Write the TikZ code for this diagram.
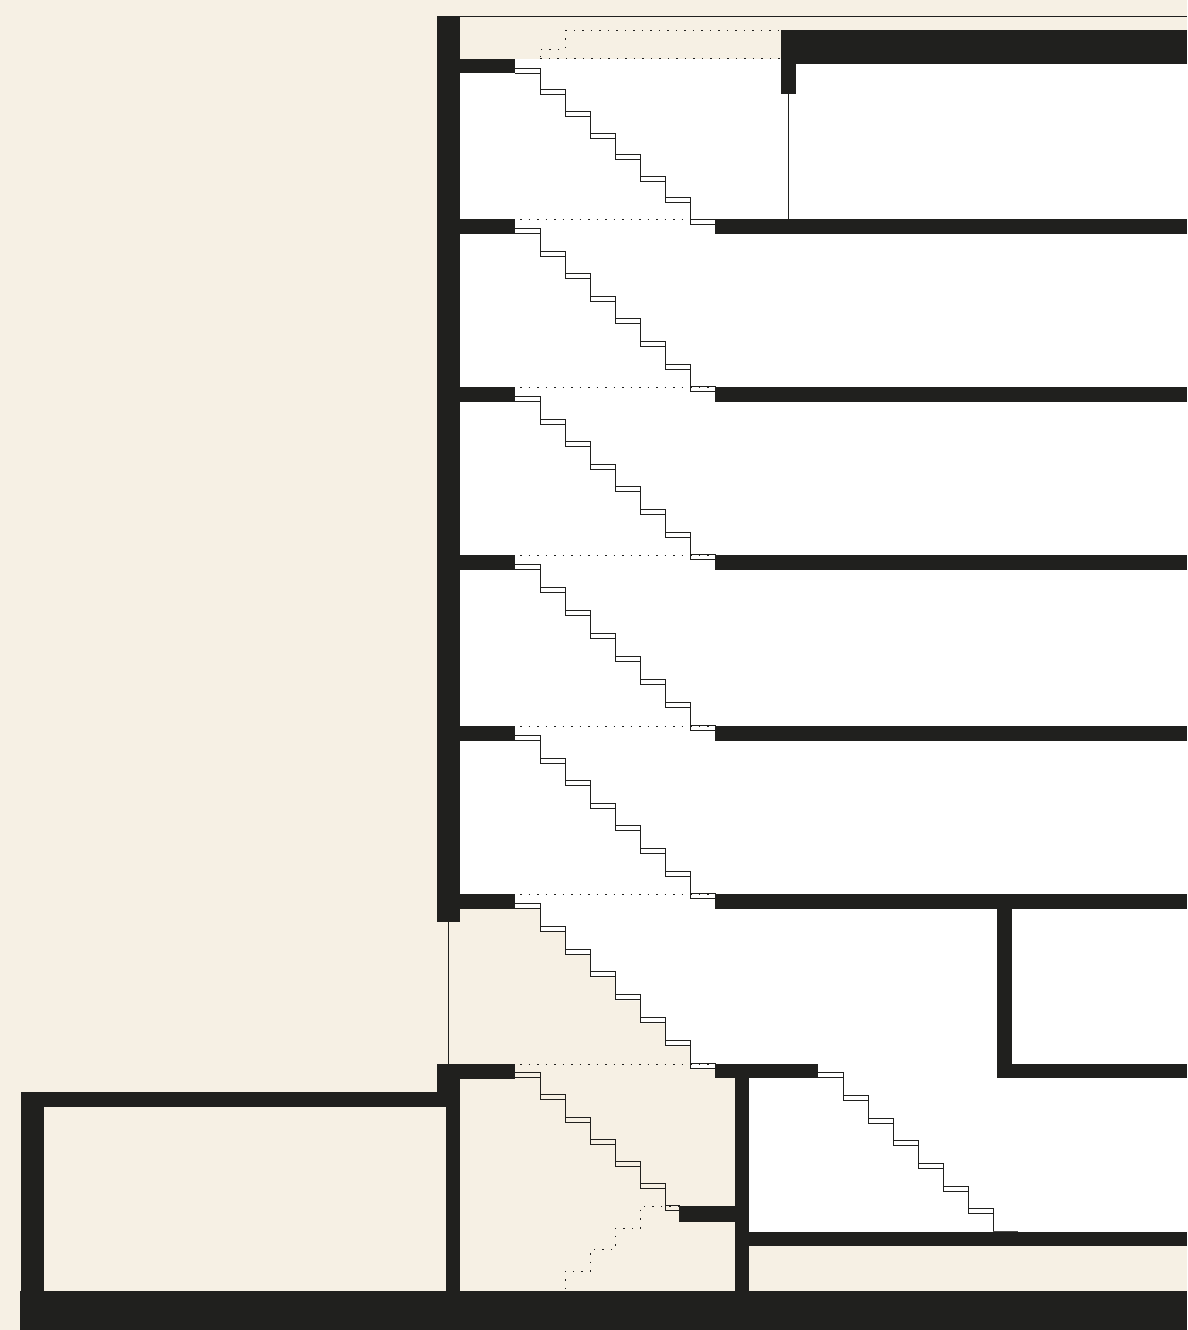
\documentclass[tikz,border=0pt]{standalone}
\definecolor{cream}{HTML}{F6F0E4}
\definecolor{ink}{HTML}{20201E}
\tikzset{
  solidpart/.style={fill=ink,draw=none},
  thin line/.style={draw=ink,line width=1.5pt},
  stairline/.style={draw=ink,line width=1pt,line cap=rect},
  hidden line/.style={draw=ink,line width=0.9pt,dash pattern=on 1.5pt off 7pt},
}
% x0, first tread top y, step height, number of treads, width of last tread
\newcommand{\flight}[5]{%
  \pgfmathtruncatemacro{\lastk}{#4-1}%
  \foreach \k in {0,...,\lastk}{%
    \pgfmathsetmacro{\tx}{#1+25*\k}%
    \pgfmathsetmacro{\ty}{#2+#3*\k}%
    \ifnum\k=\lastk\relax
      \pgfmathsetmacro{\tw}{#5}%
    \else
      \pgfmathsetmacro{\tw}{25}%
      \pgfmathsetmacro{\rx}{\tx+25}%
      \pgfmathsetmacro{\rb}{\ty+#3+5}%
      \draw[stairline] (\rx,\ty) -- (\rx,\rb);%
    \fi
    \draw[stairline] (\tx,\ty) -- ++(\tw,0);%
    \draw[stairline] (\tx,\ty+5) -- ++(\tw,0);%
  }%
}
\begin{document}
\begin{tikzpicture}[x=1pt,y=-1pt]
\useasboundingbox (0,0) rectangle (1187,1330);
\fill[cream] (0,0) rectangle (1187,1330);
% white interiors
\fill[white] (460,58.7) rectangle (1187,908.5);
\fill[white] (515.3,908.3) -- (540.3,908.3) -- (540.3,931.3) -- (565.3,931.3) -- (565.3,954.3)
  -- (590.3,954.3) -- (590.3,977.3) -- (615.3,977.3) -- (615.3,1000.3) -- (640.3,1000.3)
  -- (640.3,1023.3) -- (665.3,1023.3) -- (665.3,1046.3) -- (690.3,1046.3) -- (690.3,1069.3)
  -- (715.3,1069.3) -- (749,1069.3) -- (749,1232) -- (1187,1232) -- (1187,908.3) -- cycle;
% top line
\draw[draw=ink,line width=1.4pt] (437,16.8) -- (1187,16.8);
% roof
\fill[solidpart] (781,30) rectangle (1187,63.7);
\fill[solidpart] (781,63) rectangle (796,93.7);
\draw[thin line] (788.5,93) -- (788.5,219);
% main wall
\fill[solidpart] (436.8,16.8) rectangle (460,921.8);
\draw[thin line] (448.6,921) -- (448.6,1064);
% landing slabs on the left
\foreach \y in {58.7,219,387,555,726,894,1064}{
  \fill[solidpart] (460,\y) rectangle ++(55.3,14.5);
}
% floor slabs on the right
\foreach \y in {219,387,555,726,894}{
  \fill[solidpart] (715.3,\y) rectangle (1187,\y+14.5);
}
% lower structure
\fill[solidpart] (436.8,1063.8) rectangle (460,1107);
\fill[solidpart] (460,1063.8) rectangle (515.3,1078.3);
\fill[solidpart] (715.3,1063.8) rectangle (818.3,1078.3);
\fill[solidpart] (734.5,1070) rectangle (749.2,1295);
\fill[solidpart] (679.3,1206) rectangle (736,1221.5);
\fill[solidpart] (736,1231.6) rectangle (1187,1246);
\fill[solidpart] (997,900) rectangle (1011.8,1078.3);
\fill[solidpart] (997,1063.6) rectangle (1187,1078.3);
\fill[solidpart] (21,1092) rectangle (460,1106.8);
\fill[solidpart] (21,1092) rectangle (44.4,1295);
\fill[solidpart] (445.8,1100) rectangle (460,1295);
\fill[solidpart] (20.4,1291.2) rectangle (1187,1330);
% flights
\flight{515.3}{68.4}{21.55}{8}{25}
\flight{515.3}{228.5}{22.62}{8}{25}
\flight{515.3}{396.5}{22.62}{8}{25}
\flight{515.3}{564.5}{23}{8}{25}
\flight{515.3}{735.5}{22.62}{8}{25}
\flight{515.3}{903.3}{22.86}{8}{25}
\flight{515.3}{1072.7}{22.2}{7}{14}
\flight{818.3}{1072.7}{22.7}{7}{25}
\draw[stairline] (993.2,1209) -- (993.2,1232);
\draw[draw=ink!80,line width=0.6pt] (993.2,1231.5) -- (1018,1231.5);
% hidden lines: level edges
\draw[hidden line] (565.3,30) -- (781,30);
\draw[hidden line] (565.3,30) -- (565.3,49.5) -- (540.3,49.5) -- (540.3,58.7);
\draw[hidden line] (540.3,58.9) -- (781,58.9);
\foreach \y in {219,387,555,726,894}{
  \draw[hidden line] (520,\y) -- (754,\y);
}
\draw[hidden line] (520,1064) -- (754,1064);
% hidden lines: lowest flight
\draw[hidden line] (679,1206) -- (640.3,1206) -- (640.3,1228) -- (615.3,1228) -- (615.3,1249.5)
  -- (590.3,1249.5) -- (590.3,1271) -- (565.3,1271) -- (565.3,1291);
\end{tikzpicture}
\end{document}
